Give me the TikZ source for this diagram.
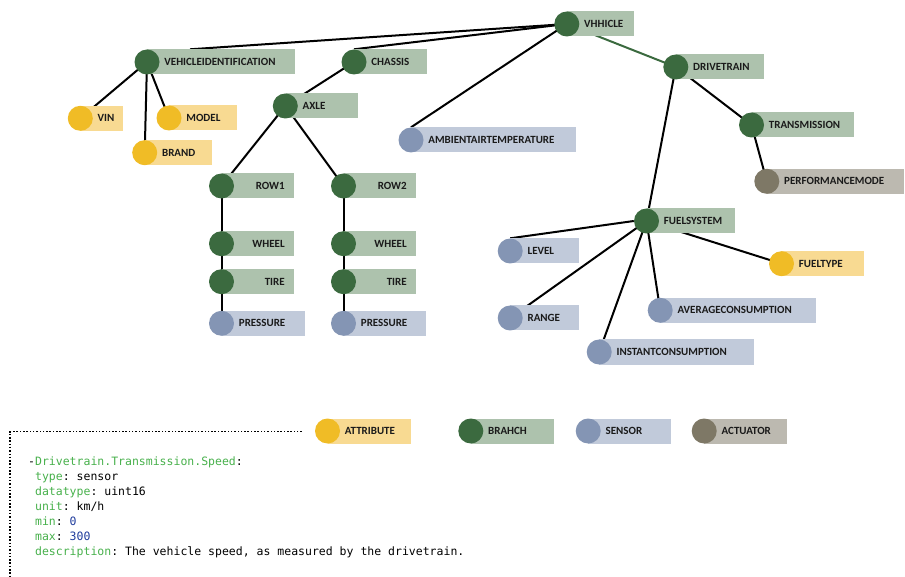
\documentclass[tikz,border=0pt]{standalone}
\usepackage{fontspec}
\setmainfont{Carlito}
\setmonofont{DejaVu Sans Mono}
\usetikzlibrary{calc}
\pgfdeclarelayer{background}
\pgfsetlayers{background,main}

\definecolor{branchdot}{HTML}{3B6A3F}
\definecolor{branchbox}{HTML}{ADC2AD}
\definecolor{attrdot}{HTML}{F0BC26}
\definecolor{attrbox}{HTML}{F8DA92}
\definecolor{sensordot}{HTML}{8495B4}
\definecolor{sensorbox}{HTML}{C1CADA}
\definecolor{actdot}{HTML}{7E7866}
\definecolor{actbox}{HTML}{BCB9B0}
\definecolor{keygreen}{HTML}{47B04B}
\definecolor{numblue}{HTML}{1F3C9C}
\definecolor{ink}{HTML}{1A1A1A}

\tikzset{
  vssdot/.style={circle, fill=#1dot, minimum size=25pt, inner sep=0pt},
  vssbox/.style={fill=#1box, minimum height=25pt, inner sep=0pt, anchor=west},
  vsslabel/.style={text=ink, inner sep=0pt, font=\fontsize{11}{13}\selectfont\bfseries},
  edge/.style={draw=black, line width=2pt},
  codetext/.style={inner sep=0pt, align=left, anchor=base west, font=\fontsize{11.5}{15}\selectfont\ttfamily},
  frame/.style={line width=1.5pt, dash pattern=on 1.5pt off 1.8pt}
}

% name, kind, x, y, right edge, text
\newcommand{\vssnode}[6]{%
  \node[vssbox=#2, minimum width={#5pt-#3pt}] (#1-box) at (#3,#4) {};
  \node[vssdot=#2] (#1) at (#3,#4) {};
  \node[vsslabel, anchor=west] (#1-txt) at ([xshift=4.5pt]#1.east) {#6};
}
% same, label set flush right in the box
\newcommand{\vssnodeR}[6]{%
  \node[vssbox=#2, minimum width={#5pt-#3pt}] (#1-box) at (#3,#4) {};
  \node[vssdot=#2] (#1) at (#3,#4) {};
  \node[vsslabel, anchor=east] (#1-txt) at ([xshift=-9.5pt]#1-box.east) {#6};
}
\newcommand{\vsskey}[1]{\textcolor{keygreen}{#1}}
\newcommand{\vssnum}[1]{\textcolor{numblue}{#1}}

\begin{document}
\begin{tikzpicture}[x=1pt, y=-1pt]
  \useasboundingbox (0,0) rectangle (905,577);

  % tree
  \vssnode{vhhicle}{branch}{566.8}{24}{633.7}{VHHICLE}
  \vssnode{vi}{branch}{147}{62}{295}{VEHICLEIDENTIFICATION}
  \vssnode{chassis}{branch}{354}{62}{426.7}{CHASSIS}
  \vssnode{drivetrain}{branch}{675.8}{67}{763.7}{DRIVETRAIN}
  \vssnode{vin}{attr}{80.3}{118.3}{123}{VIN}
  \vssnode{model}{attr}{169}{118}{237}{MODEL}
  \vssnode{brand}{attr}{144.7}{152.7}{212}{BRAND}
  \vssnode{axle}{branch}{285.3}{106}{357.7}{AXLE}
  \vssnode{ambient}{sensor}{411}{140}{576}{AMBIENTAIRTEMPERATURE}
  \vssnode{transmission}{branch}{751.5}{125}{854}{TRANSMISSION}
  \vssnode{perfmode}{act}{766.8}{181.3}{904}{PERFORMANCEMODE}

  \vssnodeR{rowone}{branch}{221.5}{186}{294}{ROW1}
  \vssnodeR{wheelone}{branch}{221.5}{243.7}{294}{WHEEL}
  \vssnodeR{tireone}{branch}{221.5}{281.7}{294}{TIRE}
  \vssnode{pressureone}{sensor}{221.5}{323.3}{305}{PRESSURE}
  \vssnodeR{rowtwo}{branch}{343.5}{186}{416}{ROW2}
  \vssnodeR{wheeltwo}{branch}{343.5}{243.7}{416}{WHEEL}
  \vssnodeR{tiretwo}{branch}{343.5}{281.7}{416}{TIRE}
  \vssnode{pressuretwo}{sensor}{343.5}{323.3}{426}{PRESSURE}

  \vssnode{fuelsystem}{branch}{646.5}{221}{735}{FUELSYSTEM}
  \vssnode{level}{sensor}{510.2}{251}{579}{LEVEL}
  \vssnode{range}{sensor}{510.2}{318}{579}{RANGE}
  \vssnode{fueltype}{attr}{781.5}{263.7}{864}{FUELTYPE}
  \vssnode{avgcons}{sensor}{660.2}{310.3}{815.7}{AVERAGECONSUMPTION}
  \vssnode{instcons}{sensor}{599.2}{352}{754}{INSTANTCONSUMPTION}

  % legend
  \vssnode{legattr}{attr}{327.5}{431}{410.7}{ATTRIBUTE}
  \vssnode{legbranch}{branch}{470.8}{431}{554}{BRAHCH}
  \vssnode{legsensor}{sensor}{588.2}{431}{671}{SENSOR}
  \vssnode{legact}{act}{704.2}{431}{787}{ACTUATOR}

  \begin{pgfonlayer}{background}
    \draw[edge] (vhhicle.center) -- ($(vi-box.north west)!0.29!(vi-box.north east)$);
    \draw[edge] (vhhicle.center) -- (chassis.north);
    \draw[edge] (vhhicle.center) -- (ambient.north);
    \draw[edge, draw=branchdot] (vhhicle.center) -- (drivetrain.center);
    \draw[edge] (vi.center) -- (vin.center);
    \draw[edge] (vi.center) -- (brand.center);
    \draw[edge] (vi.center) -- (model.center);
    \draw[edge] (chassis.center) -- (axle.center);
    \draw[edge] (axle.center) -- (rowone.center);
    \draw[edge] (axle.center) -- (rowtwo.center);
    \draw[edge] (rowone.center) -- (wheelone.center) -- (tireone.center) -- (pressureone.center);
    \draw[edge] (rowtwo.center) -- (wheeltwo.center) -- (tiretwo.center) -- (pressuretwo.center);
    \draw[edge] (drivetrain.center) -- (transmission.center);
    \draw[edge] (transmission.center) -- (perfmode.center);
    \draw[edge] (drivetrain.center) -- (fuelsystem.center);
    \draw[edge] (fuelsystem.west) -- (level.north);
    \draw[edge] (fuelsystem.center) -- (range.center);
    \draw[edge] (fuelsystem.center) -- (instcons.center);
    \draw[edge] (fuelsystem.center) -- (avgcons.center);
    \draw[edge] (fuelsystem.center) -- (fueltype.center);
  \end{pgfonlayer}

  % signal spec (base anchor sits on the last line)
  \coordinate (frametop) at (301.7,431.7);
  \coordinate (framecorner) at (10,431.7);
  \coordinate (framebottom) at (10,577);
  \draw[frame] (frametop) -- (framecorner) -- (framebottom);

  \node[codetext] (spec) at (28,555.5) {%
    -\vsskey{Drivetrain.Transmission.Speed}:\\
    \phantom{-}\vsskey{type}: sensor\\
    \phantom{-}\vsskey{datatype}: uint16\\
    \phantom{-}\vsskey{unit}: km/h\\
    \phantom{-}\vsskey{min}: \vssnum{0}\\
    \phantom{-}\vsskey{max}: \vssnum{300}\\
    \phantom{-}\vsskey{description}: The vehicle speed, as measured by the drivetrain.};
\end{tikzpicture}
\end{document}
